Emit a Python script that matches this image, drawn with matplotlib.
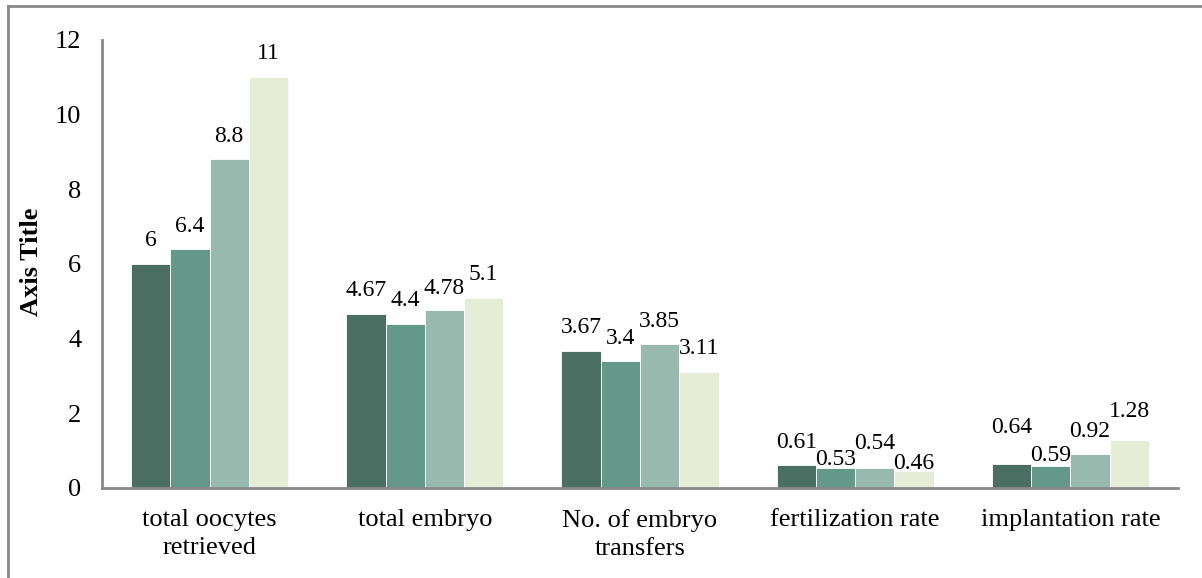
import matplotlib.pyplot as plt
import numpy as np
from matplotlib.lines import Line2D

categories = ["total oocytes\nretrieved", "total embryo", "No. of embryo\ntransfers",
              "fertilization rate", "implantation rate"]
s1 = [6, 4.67, 3.67, 0.61, 0.64]
s2 = [6.4, 4.4, 3.4, 0.53, 0.59]
s3 = [8.8, 4.78, 3.85, 0.54, 0.92]
s4 = [11, 5.1, 3.11, 0.46, 1.28]
series = [s1, s2, s3, s4]
colors = ["#4a6f62", "#64998a", "#98b9ae", "#e5edd6"]

# label height above bar top (pixels), excel staggers the small ones
label_off = [[23, 23, 23, 23, 37],
             [23, 23, 23, 9, 10],
             [23, 21, 23, 24, 22],
             [24, 23, 23, 7, 29]]

plt.rcParams['font.family'] = ['Liberation Serif', 'DejaVu Serif']

fig = plt.figure(figsize=(12.02, 5.78), dpi=100)
W, H = 1202, 578
ax = fig.add_axes([102 / W, 1 - 488 / H, 1076 / W, 448 / H])

x = np.arange(len(categories))
bw = 0.73 / 4
for i, vals in enumerate(series):
    pos = x - 0.73 / 2 + bw * (i + 0.5)
    bars = ax.bar(pos, vals, width=bw, color=colors[i], edgecolor="white", linewidth=0.6)
    for j, (b, v) in enumerate(zip(bars, vals)):
        ax.annotate(f"{v:g}", (b.get_x() + b.get_width() / 2, v),
                    xytext=(0, label_off[i][j] * 0.72), textcoords="offset points",
                    ha="center", va="center", fontsize=17)

ax.set_xlim(-0.5, len(categories) - 0.5)
ax.set_ylim(0, 12)
ax.set_yticks(range(0, 13, 2))
ax.set_xticks(x)
ax.set_xticklabels(categories, fontsize=19, linespacing=1.38)
ax.tick_params(axis="y", labelsize=19, length=0, pad=15)
ax.tick_params(axis="x", length=0, pad=15)
for s in ["top", "right"]:
    ax.spines[s].set_visible(False)
for s in ["left", "bottom"]:
    ax.spines[s].set_color("#888888")
    ax.spines[s].set_linewidth(2)
fig.text(32 / W, 1 - 262 / H, "Axis Title", rotation=90, ha="center", va="center",
         fontsize=19, fontweight="bold")

# outer chart border (left and top only visible)
fig.add_artist(Line2D([8 / W, 8 / W], [0, 1 - 6 / H], transform=fig.transFigure,
                      color="#888888", linewidth=2))
fig.add_artist(Line2D([8 / W, 1], [1 - 6 / H, 1 - 6 / H], transform=fig.transFigure,
                      color="#888888", linewidth=2))

fig.savefig("out.png", dpi=100)
